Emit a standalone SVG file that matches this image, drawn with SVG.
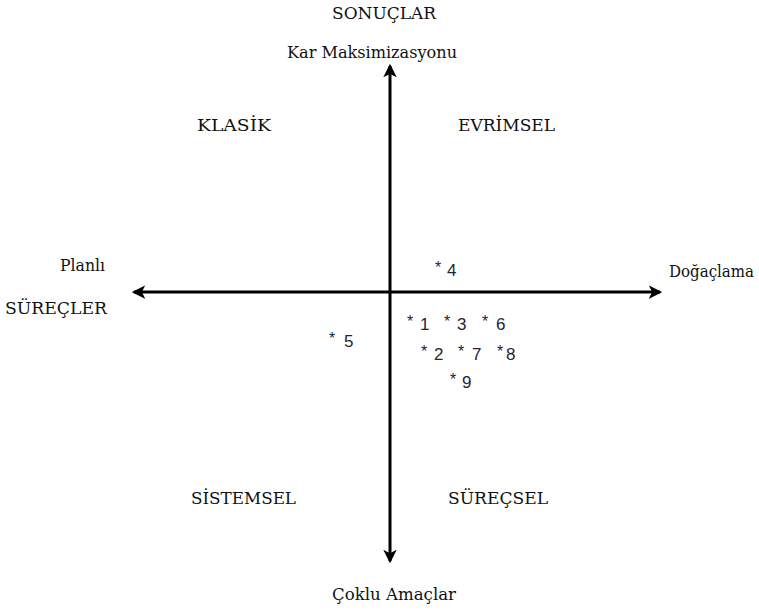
<svg xmlns="http://www.w3.org/2000/svg" width="759" height="611" viewBox="0 0 759 611">
  <style>
    .lbl { font-family: "DejaVu Serif", "Liberation Serif", serif; font-size: 16px; fill: #111; }
    .num { font-family: "Liberation Sans", Arial, sans-serif; font-size: 17px; fill: #1f2533; }
    .star { font-family: "Liberation Sans", Arial, sans-serif; font-size: 16px; fill: #1f2533; }
    .axis { stroke: #000; stroke-width: 3; fill: none; }
  </style>
  <defs>
    <marker id="head" viewBox="0 0 12 12" refX="10" refY="6" markerWidth="4.5" markerHeight="4.5" orient="auto" markerUnits="strokeWidth">
      <path d="M0,0 L12,6 L0,12 L3,6 Z" fill="#000"/>
    </marker>
  </defs>
  <rect width="759" height="611" fill="#fff"/>

  <g id="connectors">
    <line class="axis" x1="390" y1="292" x2="660" y2="292" marker-end="url(#head)"/>
    <line class="axis" x1="390" y1="292" x2="134" y2="292" marker-end="url(#head)"/>
    <line class="axis" x1="390" y1="292" x2="390" y2="66" marker-end="url(#head)"/>
    <line class="axis" x1="390" y1="292" x2="390" y2="561" marker-end="url(#head)"/>
  </g>

  <g id="axis-labels">
    <text class="lbl" x="332" y="19" textLength="104" lengthAdjust="spacingAndGlyphs">SONUÇLAR</text>
    <text class="lbl" x="287" y="58" textLength="170" lengthAdjust="spacingAndGlyphs">Kar Maksimizasyonu</text>
    <text class="lbl" x="332" y="600" textLength="124" lengthAdjust="spacingAndGlyphs">Çoklu Amaçlar</text>
    <text class="lbl" x="60" y="271" textLength="45" lengthAdjust="spacingAndGlyphs">Planlı</text>
    <text class="lbl" x="5" y="314" textLength="102" lengthAdjust="spacingAndGlyphs">SÜREÇLER</text>
    <text class="lbl" x="669" y="277" textLength="85" lengthAdjust="spacingAndGlyphs">Doğaçlama</text>
  </g>

  <g id="quadrants">
    <text class="lbl" x="197" y="131" textLength="74" lengthAdjust="spacingAndGlyphs">KLASİK</text>
    <text class="lbl" x="458" y="131" textLength="97" lengthAdjust="spacingAndGlyphs">EVRİMSEL</text>
    <text class="lbl" x="191" y="504" textLength="105" lengthAdjust="spacingAndGlyphs">SİSTEMSEL</text>
    <text class="lbl" x="448" y="504" textLength="100" lengthAdjust="spacingAndGlyphs">SÜREÇSEL</text>
  </g>

  <g id="points">
    <text class="star" x="435" y="273">*</text><text class="num" x="447" y="276">4</text>
    <text class="star" x="407" y="327">*</text><text class="num" x="420" y="330">1</text>
    <text class="star" x="444" y="327">*</text><text class="num" x="457" y="330">3</text>
    <text class="star" x="482" y="327">*</text><text class="num" x="496" y="330">6</text>
    <text class="star" x="421" y="357">*</text><text class="num" x="434" y="360">2</text>
    <text class="star" x="458" y="357">*</text><text class="num" x="472" y="360">7</text>
    <text class="star" x="497" y="357">*</text><text class="num" x="506" y="360">8</text>
    <text class="star" x="450" y="385">*</text><text class="num" x="462" y="388">9</text>
    <text class="star" x="329" y="344">*</text><text class="num" x="344" y="347">5</text>
  </g>
</svg>
